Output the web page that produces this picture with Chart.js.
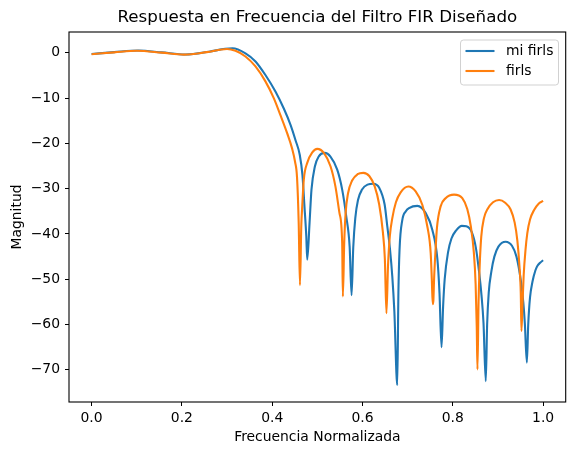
<!DOCTYPE html>
<html>
<head>
<meta charset="utf-8">
<script src="https://cdn.jsdelivr.net/npm/chart.js@4/dist/chart.umd.min.js"></script>
<style>
  body { margin: 0; background: #fff; }
  canvas { display: block; }
</style>
</head>
<body>
<canvas id="myChart" width="574" height="455"></canvas>
<script>
// ticks
const xTicks = [0.0, 0.2, 0.4, 0.6, 0.8, 1.0];
const yTicks = [-70, -60, -50, -40, -30, -20, -10, 0];

// mi firls: [frecuencia, dB]
const miFirls = [
  [0, -0.25], [0.05, 0.15], [0.104, 0.5], [0.155, 0.1], [0.208, -0.38], [0.26, 0.25], [0.296, 0.9], [0.312, 1.0],
  [0.3408, -0.1], [0.363, -1.9], [0.385, -4.9], [0.4075, -8.6], [0.4257, -12.3], [0.4406, -15.9], [0.452, -19.4],
  [0.461, -22.5], [0.467, -27], [0.4715, -34], [0.4755, -40.5], [0.4776, -45.7],
  [0.4827, -37.6], [0.487, -30.2], [0.4945, -25.1], [0.503, -22.9], [0.516, -22.1], [0.529, -22.9], [0.544, -25.8],
  [0.555, -30.2], [0.564, -36.1], [0.5715, -42.8], [0.5758, -53.5],
  [0.5795, -43], [0.584, -36.5], [0.59, -32.5], [0.599, -30.2], [0.611, -29.1], [0.624, -28.9], [0.637, -29.8],
  [0.649, -33.5], [0.655, -38.4], [0.661, -43.5], [0.666, -49.4], [0.6705, -57], [0.677, -73.4],
  [0.6795, -53], [0.682, -43.5], [0.688, -37], [0.696, -35], [0.703, -34.3], [0.7215, -33.8], [0.740, -35.4],
  [0.7547, -39.1], [0.7658, -45.5], [0.7705, -53], [0.775, -65],
  [0.7785, -56], [0.782, -50], [0.7895, -44], [0.797, -41], [0.8075, -39.2], [0.82, -38.2], [0.83, -38.3],
  [0.842, -39.6], [0.851, -43], [0.858, -48.2], [0.8635, -53.5], [0.868, -59.7], [0.873, -72.5],
  [0.876, -60], [0.8795, -53], [0.8855, -48.2], [0.892, -45], [0.901, -42.8], [0.917, -41.7], [0.931, -42.6],
  [0.941, -45], [0.9505, -50.2], [0.956, -55], [0.9595, -59.7], [0.964, -68.4],
  [0.967, -60], [0.971, -54], [0.9765, -50.5], [0.983, -48], [0.9875, -47], [0.994, -46.3], [1.0, -45.8]
];

// firls
const firls = [
  [0, -0.3], [0.05, 0.1], [0.1, 0.45], [0.155, 0.05], [0.205, -0.4], [0.255, 0.15], [0.3, 0.85], [0.3186, 0.44],
  [0.3408, -0.8], [0.363, -3.0], [0.385, -6.3], [0.4035, -10], [0.418, -13.7], [0.4333, -17.8], [0.444, -21.1],
  [0.4505, -24], [0.455, -27.5], [0.4587, -37.6], [0.4615, -51.3],
  [0.4645, -38], [0.4665, -33.9], [0.470, -28], [0.4776, -24.3], [0.4888, -22.0], [0.4998, -21.2], [0.5144, -22.1],
  [0.5293, -25.1], [0.540, -29.5], [0.549, -35.4], [0.555, -42], [0.5565, -53.8],
  [0.5595, -42], [0.5625, -35.5], [0.568, -31], [0.577, -28.2], [0.589, -26.8], [0.602, -26.5], [0.615, -27.2],
  [0.627, -29.5], [0.637, -33.5], [0.645, -39.5], [0.6495, -45.5], [0.653, -57.5],
  [0.6565, -47], [0.6605, -40.5], [0.666, -36.5], [0.674, -33], [0.6845, -30.8], [0.7015, -29.5], [0.7177, -30.6],
  [0.7326, -33.6], [0.7437, -38.4], [0.751, -44.2], [0.7535, -50], [0.7555, -55.5], [0.757, -54.6], [0.7585, -50],
  [0.7615, -44], [0.765, -38.5], [0.773, -33.9], [0.784, -32.1], [0.8027, -31.3], [0.821, -32.1], [0.832, -34.5],
  [0.840, -38.4], [0.8465, -44], [0.8505, -51], [0.853, -60.5], [0.8546, -69.9],
  [0.857, -55], [0.8595, -47], [0.863, -40.6], [0.869, -36.5], [0.877, -34.5], [0.889, -33], [0.9025, -32.5],
  [0.916, -33.1], [0.928, -34.6], [0.937, -37.5], [0.943, -41.5], [0.9475, -47], [0.9505, -53], [0.952, -61.4],
  [0.9545, -55], [0.957, -49], [0.961, -43.5], [0.965, -39.8], [0.971, -36.8], [0.98, -34.7], [0.99, -33.3], [1.0, -32.7]
];

const toPoints = (pairs) => pairs.map(p => ({ x: p[0], y: p[1] }));
const fmtMinus = (v) => (v < 0 ? '\u2212' + Math.abs(v) : String(v));

Chart.defaults.font.family = "'DejaVu Sans', sans-serif";
Chart.defaults.font.size = 13.9;
Chart.defaults.color = '#000';

// titulo, marco y leyenda al estilo matplotlib
const mplDeco = {
  id: 'mplDeco',
  afterDatasetsDraw(chart) {
    const { ctx, chartArea: a } = chart;
    ctx.save();
    ctx.strokeStyle = '#000';
    ctx.lineWidth = 1.1;
    ctx.strokeRect(a.left, a.top, a.right - a.left, a.bottom - a.top);
    ctx.restore();
  },
  afterDraw(chart) {
    const { ctx, chartArea: a } = chart;
    ctx.save();
    ctx.fillStyle = '#000';
    ctx.font = "16.7px 'DejaVu Sans'";
    ctx.textAlign = 'center';
    ctx.textBaseline = 'middle';
    ctx.fillText('Respuesta en Frecuencia del Filtro FIR Diseñado', (a.left + a.right) / 2, 18);

    // leyenda
    const bx = 460.5, by = 40, bw = 98, bh = 45, r = 3;
    ctx.beginPath();
    ctx.moveTo(bx + r, by);
    ctx.arcTo(bx + bw, by, bx + bw, by + bh, r);
    ctx.arcTo(bx + bw, by + bh, bx, by + bh, r);
    ctx.arcTo(bx, by + bh, bx, by, r);
    ctx.arcTo(bx, by, bx + bw, by, r);
    ctx.closePath();
    ctx.fillStyle = 'rgba(255,255,255,0.8)';
    ctx.fill();
    ctx.strokeStyle = 'rgba(204,204,204,0.9)';
    ctx.lineWidth = 1;
    ctx.stroke();
    ctx.font = "13.9px 'DejaVu Sans'";
    ctx.textAlign = 'left';
    chart.data.datasets.forEach((ds, i) => {
      const y = 51 + i * 20;
      ctx.strokeStyle = ds.borderColor;
      ctx.lineWidth = 2.1;
      ctx.beginPath();
      ctx.moveTo(465.5, y);
      ctx.lineTo(494.5, y);
      ctx.stroke();
      ctx.fillStyle = '#000';
      ctx.fillText(ds.label, 506, y);
    });
    ctx.restore();
  }
};

const ctx = document.getElementById('myChart').getContext('2d');
const myChart = new Chart(ctx, {
  type: 'line',
  data: {
    datasets: [
      {
        label: 'mi firls',
        data: toPoints(miFirls),
        borderColor: '#1f77b4',
        borderWidth: 2.1,
        pointRadius: 0,
        cubicInterpolationMode: 'monotone',
        order: 1
      },
      {
        label: 'firls',
        data: toPoints(firls),
        borderColor: '#ff7f0e',
        borderWidth: 2.1,
        pointRadius: 0,
        cubicInterpolationMode: 'monotone',
        order: 0
      }
    ]
  },
  options: {
    responsive: false,
    animation: false,
    layout: { padding: { top: 32, right: 8.3, bottom: 0, left: 0 } },
    plugins: {
      legend: { display: false },
      title: { display: false },
      tooltip: { enabled: false }
    },
    scales: {
      x: {
        type: 'linear',
        min: -0.05,
        max: 1.05,
        afterBuildTicks: (s) => { s.ticks = xTicks.map(v => ({ value: v })); },
        afterFit: (s) => { s.height = 53; },
        ticks: { padding: 4, callback: (v) => v.toFixed(1) },
        grid: { drawOnChartArea: false, tickLength: 4, tickColor: '#000', tickWidth: 1 },
        border: { display: false },
        title: { display: true, text: 'Frecuencia Normalizada', padding: { top: 0, bottom: 9.5 } }
      },
      y: {
        type: 'linear',
        min: -77.1,
        max: 4.6,
        afterBuildTicks: (s) => { s.ticks = yTicks.map(v => ({ value: v })); },
        afterFit: (s) => { s.width = 69; },
        ticks: { padding: 5, callback: (v) => fmtMinus(v) },
        grid: { drawOnChartArea: false, tickLength: 4, tickColor: '#000', tickWidth: 1 },
        border: { display: false },
        title: { display: true, text: 'Magnitud', padding: { top: 8.7, bottom: 0 } }
      }
    }
  },
  plugins: [mplDeco]
});
</script>
</body>
</html>
